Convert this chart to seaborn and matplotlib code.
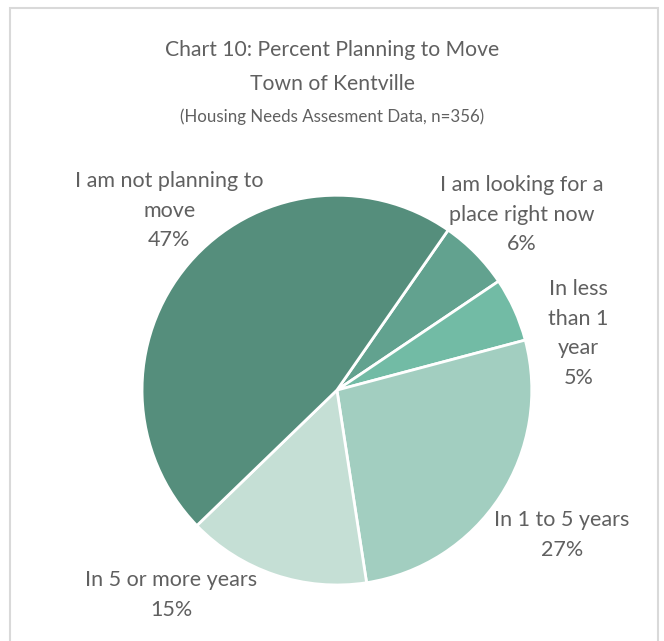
import matplotlib.pyplot as plt
import seaborn as sns
import numpy as np

# answers, in clockwise order starting from the "looking" slice
labels = ['I am looking for a\nplace right now', 'In less\nthan 1\nyear', 'In 1 to 5 years',
          'In 5 or more years', 'I am not planning to\nmove']
values = [5.9, 5.3, 26.7, 15.2, 46.9]
colors = ['#62A28F', '#72BBA5', '#A2CEC0', '#C5DFD5', '#558E7C']

# label centres, in units of pie radius
label_pos = [(0.95, 0.90), (1.24, 0.29), (1.155, -0.745), (-0.85, -1.05), (-0.86, 0.92)]

sns.set_theme(style="white")
plt.rcParams['font.family'] = ['Lato', 'DejaVu Sans']
text_col = '#606060'

fig = plt.figure(figsize=(6.64, 6.41), dpi=100)
fig.patch.set_facecolor('white')

# thin grey frame like the Excel chart area
frame = plt.Rectangle((10 / 664, -0.01), 648 / 664, 1 - 8 / 641 + 0.01, transform=fig.transFigure,
                      fill=False, edgecolor='#D9D9D9', linewidth=1.5)
fig.patches.append(frame)

ax = fig.add_axes([0.2139, 0.0874, 0.587, 0.608])
ax.pie(values, colors=colors, startangle=55.2, counterclock=False,
       wedgeprops=dict(edgecolor='white', linewidth=2))
ax.set_aspect('equal')
ax.set_xlim(-1, 1)
ax.set_ylim(-1, 1)
ax.axis('off')

for lab, v, (x, y) in zip(labels, values, label_pos):
    ax.text(x, y, f"{lab}\n{round(v)}%", ha='center', va='center', fontsize=15.5,
            color=text_col, linespacing=1.6)

fig.text(0.5, 1 - 50 / 641, 'Chart 10: Percent Planning to Move', ha='center', va='center',
         fontsize=15.2, color=text_col)
fig.text(0.5, 1 - 84 / 641, 'Town of Kentville', ha='center', va='center',
         fontsize=15.2, color=text_col)
fig.text(0.5, 1 - 117 / 641, '(Housing Needs Assesment Data, n=356)', ha='center', va='center',
         fontsize=12.2, color=text_col)

plt.savefig('out.png', dpi=100, facecolor='white')
